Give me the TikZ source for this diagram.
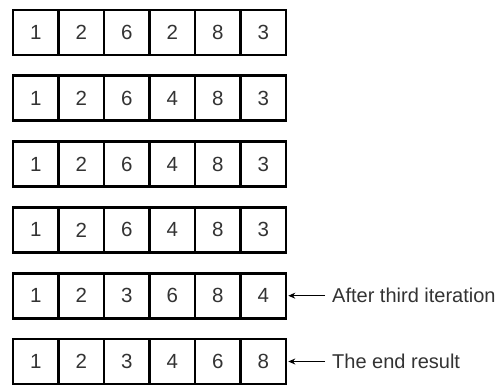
\documentclass[tikz,border=0pt]{standalone}
\usepackage{fontspec}
\setmainfont{Liberation Sans}
\usepackage{tikz}
\usetikzlibrary{
  arrows.meta,  % Stealth 箭头
  positioning   % 节点相对定位
}

\tikzset{
  cell/.style={draw, line width=2.6pt, minimum width=45.5pt, minimum height=45pt,
    inner sep=0pt, text=black!80, font=\fontsize{20.5}{24}\selectfont},
  note/.style={right, inner sep=0pt, text=black!80, font=\fontsize{20}{24}\selectfont},
  pointer/.style={-{Stealth[length=7pt, width=6pt]}, line width=1pt}
}

\begin{document}
\begin{tikzpicture}[x=1pt, y=1pt]
  \useasboundingbox (0, 0) rectangle (500, 386);

  % 六行数组，每行六个格子
  \foreach \row/\vals in {1/{1,2,6,2,8,3}, 2/{1,2,6,4,8,3}, 3/{1,2,6,4,8,3},
                          4/{1,2,6,4,8,3}, 5/{1,2,3,6,8,4}, 6/{1,2,3,4,6,8}} {
    \foreach \v [count=\col] in \vals {
      \node[cell] (c\row-\col) at ({13 + 45.5*(\col - 0.5)}, {386 - 32.5 - 65.8*(\row - 1)}) {\v};
    }
  }

  % 右侧说明文字与箭头
  \node[note] (lbl5) at (332, {386 - 32.5 - 65.8*4}) {After third iteration};
  \node[note] (lbl6) at (332, {386 - 32.5 - 65.8*5}) {The end result};
  \draw[pointer] ([xshift=-7pt]lbl5.west) -- ([xshift=1pt]c5-6.east);
  \draw[pointer] ([xshift=-7pt]lbl6.west) -- ([xshift=1pt]c6-6.east);
\end{tikzpicture}
\end{document}
